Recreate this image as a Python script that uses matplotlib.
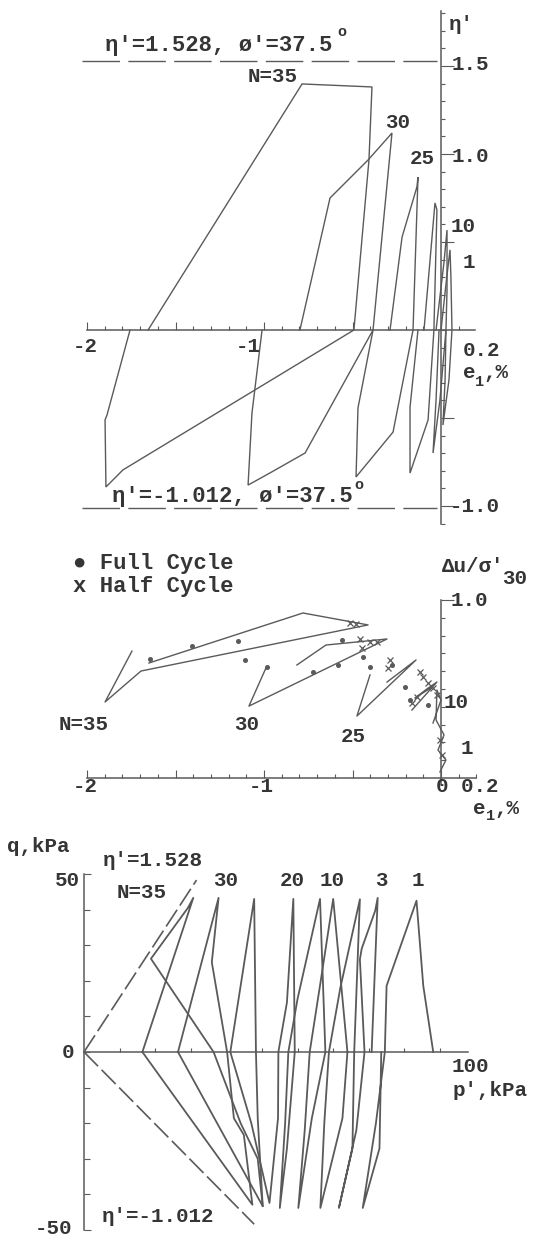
import matplotlib
matplotlib.use('Agg')
import matplotlib.pyplot as plt
import numpy as np

# ---------------- data ----------------
# Top panel: stress ratio eta' vs axial strain e1 (%)
top_n35_e = [-1.655, -0.785, -0.390, -0.407, -0.492, -1.797, -1.893, -1.898, -1.887, -1.757]
top_n35_eta = [0.0, 1.398, 1.381, 0.966, 0.0, -0.795, -0.892, -0.511, -0.483, 0.0]
top_n30_e = [-0.797, -0.627, -0.412, -0.277, -0.384, -0.768, -0.966, -1.090, -1.068, -1.011]
top_n30_eta = [0.0, 0.750, 0.966, 1.119, 0.0, -0.699, -0.812, -0.881, -0.472, 0.0]
top_n25_e = [-0.288, -0.220, -0.136, -0.130, -0.158, -0.271, -0.480, -0.469, -0.384]
top_n25_eta = [0.0, 0.528, 0.813, 0.869, 0.0, -0.580, -0.835, -0.443, 0.0]
top_n20_e = [-0.096, -0.034, -0.023, -0.040, -0.073, -0.175, -0.175, -0.130]
top_n20_eta = [0.0, 0.722, 0.682, 0.0, -0.511, -0.813, -0.438, 0.0]
top_n10_e = [-0.028, 0.017, 0.034, 0.034, 0.028, -0.006, -0.045, -0.028, -0.011]
top_n10_eta = [0.0, 0.386, 0.568, 0.227, 0.0, -0.398, -0.699, -0.398, 0.0]
top_n1_e = [0.0, 0.034, 0.051, 0.056, 0.062, 0.045, 0.011, 0.023, 0.028]
top_n1_eta = [0.0, 0.313, 0.455, 0.301, 0.0, -0.284, -0.540, -0.284, 0.0]
eta_comp = 1.528
eta_ext = -1.012

# Middle panel: pore pressure ratio du/sigma'30 vs axial strain
mid_n35_e = [-1.746, -1.898, -1.695, -0.412, -0.780, -1.650]
mid_n35_u = [0.713, 0.427, 0.601, 0.860, 0.927, 0.646]
mid_n30_e = [-0.989, -1.085, -0.305, -0.650, -0.814]
mid_n30_u = [0.618, 0.404, 0.781, 0.747, 0.635]
mid_n25_e = [-0.401, -0.475, -0.141, -0.305]
mid_n25_u = [0.579, 0.348, 0.663, 0.539]
mid_n10_e = [-0.164, -0.023, -0.080, -0.147, -0.051]
mid_n10_u = [0.382, 0.539, 0.500, 0.449, 0.511]
mid_n1_e = [-0.045, 0.0, -0.023, -0.028, 0.017, -0.017, 0.028, -0.006]
mid_n1_u = [0.309, 0.438, 0.494, 0.326, 0.242, 0.157, 0.101, 0.034]
full_e = [-1.644, -1.407, -1.147, -1.107, -0.983, -0.723, -0.582, -0.559, -0.441, -0.401,
          -0.277, -0.203, -0.175, -0.073]
full_u = [0.669, 0.742, 0.770, 0.663, 0.624, 0.596, 0.635, 0.775, 0.680, 0.624,
          0.635, 0.511, 0.438, 0.410]
half_e = [-0.514, -0.480, -0.458, -0.401, -0.362, -0.446, -0.288, -0.299, -0.119, -0.102,
          -0.073, -0.045, -0.136, -0.164, -0.023, -0.006, 0.006]
half_u = [0.871, 0.865, 0.781, 0.764, 0.764, 0.730, 0.663, 0.618, 0.596, 0.567,
          0.534, 0.506, 0.455, 0.421, 0.466, 0.213, 0.129]

# Bottom panel: q (kPa) vs p' (kPa)
bot_c1_p = [98.1, 95.3, 93.4, 85.0, 84.5, 82.0, 78.3, 83.0, 83.5]
bot_c1_q = [0, 18.6, 42.5, 18.6, 0, -20.0, -43.8, -27.1, 0]
bot_c3_p = [80.8, 82.5, 81.8, 78.0, 77.5, 78.8, 76.5, 71.6, 75.4, 75.9]
bot_c3_q = [0, 43.3, 39.7, 29.0, 26.0, 0, -22.0, -43.8, -27.1, 0]
bot_c5_p = [75.9, 77.5, 72.0, 68.8, 67.5, 66.4, 72.6, 74.0]
bot_c5_q = [0, 42.9, 18.0, 0, -20.0, -43.8, -18.6, 0]
bot_c10_p = [74.0, 70.0, 66.5, 63.4, 62.0, 60.2, 64.0, 67.8]
bot_c10_q = [0, 43.0, 20.0, 0, -22.0, -43.8, -18.6, 0]
bot_c15_p = [67.8, 66.3, 60.0, 57.4, 56.5, 55.0, 57.0, 59.2]
bot_c15_q = [0, 43.0, 15.0, 0, -20.0, -43.8, -27.1, 0]
bot_c20_p = [59.2, 58.8, 57.0, 54.6, 54.5, 52.1, 47.0, 41.1]
bot_c20_q = [0, 43.0, 13.9, 0, -18.6, -42.4, -20.0, 0]
bot_c25_p = [41.1, 47.8, 48.3, 48.8, 50.2, 26.4]
bot_c25_q = [0, 43.0, 0, -18.6, -43.3, 0]
bot_c30_p = [26.4, 37.8, 35.9, 40.2, 42.1, 44.9, 47.3, 16.4]
bot_c30_q = [0, 43.3, 25.2, 0, -18.6, -23.3, -42.9, 0]
bot_c35_p = [16.4, 30.7, 29.2, 18.8, 36.4, 44.0, 48.8, 50.2]
bot_c35_q = [0, 43.3, 40.5, 26.2, 0, -20.0, -30.0, -43.3]
line_comp_p = [0, 31.6]
line_ext_p = [0, 47.8]

# ---------------- figure ----------------
W, H = 533, 1238
DPI = 100
fig = plt.figure(figsize=(W / DPI, H / DPI), dpi=DPI)
fig.patch.set_facecolor('white')

FONT = ['Liberation Mono', 'DejaVu Sans Mono', 'DejaVu Sans']
TXT = '#353535'
LC = '#5a5a5a'
LW = 1.0


def make_ax(x0, xs, y0, ys, top, bot):
    ax = fig.add_axes([0, 1 - bot / H, 1, (bot - top) / H])
    ax.set_xlim((0 - x0) / xs, (W - x0) / xs)
    ax.set_ylim((y0 - bot) / ys, (y0 - top) / ys)
    ax.patch.set_alpha(0)
    for s in ['top', 'right']:
        ax.spines[s].set_visible(False)
    for s in ['left', 'bottom']:
        ax.spines[s].set_position(('data', 0))
        ax.spines[s].set_color(LC)
        ax.spines[s].set_linewidth(1.1)
    ax.xaxis.set_ticks_position('bottom')
    ax.yaxis.set_ticks_position('left')
    ax.tick_params(which='both', direction='in', labelbottom=False, labelleft=False,
                   color=LC, width=0.8)
    ax.tick_params(which='major', length=6)
    ax.tick_params(which='minor', length=3)
    return ax


def ftext(px, py, s, size=15, ha='left', va='center'):
    fig.text(px / W, 1 - py / H, s, fontsize=size, ha=ha, va=va, family=FONT,
             color=TXT, fontweight='bold')


# ---- top panel ----
ax1 = make_ax(441, 177, 330, 176, 0, 530)
ax1.spines['left'].set_bounds(-1.1, 1.81)
ax1.spines['bottom'].set_bounds(-2.0, 0.19)
ax1.set_xticks([-2, -1.5, -1, -0.5, 0])
ax1.set_xticks(np.arange(-2.0, 0.2, 0.1), minor=True)
ax1.set_yticks([-1.0, -0.5, 0.5, 1.0, 1.5])
ax1.set_yticks(np.arange(-1.1, 1.85, 0.1), minor=True)
ax1.tick_params(axis='y', which='major', length=9)
for e, t in [(top_n35_e, top_n35_eta), (top_n30_e, top_n30_eta), (top_n25_e, top_n25_eta),
             (top_n20_e, top_n20_eta), (top_n10_e, top_n10_eta), (top_n1_e, top_n1_eta)]:
    ax1.plot(e, t, color=LC, lw=LW, solid_joinstyle='miter')
ax1.plot([-2.03, -0.02], [eta_comp, eta_comp], color=LC, lw=1.0, ls=(0, (27, 6)))
ax1.plot([-2.03, -0.02], [eta_ext, eta_ext], color=LC, lw=1.0, ls=(0, (27, 6)))

ftext(105, 45, "η'=1.528, ø'=37.5", size=16)
ftext(337, 32, "o", size=11)
ftext(112, 496, "η'=-1.012, ø'=37.5", size=16)
ftext(354, 485, "o", size=11)
ftext(248, 77, "N=35")
ftext(385, 123, "30")
ftext(410, 158, "25")
ftext(451, 227, "10")
ftext(463, 263, "1")
ftext(449, 24, "η'")
ftext(452, 65, "1.5")
ftext(452, 156, "1.0")
ftext(450, 507, "-1.0")
ftext(73, 347, "-2")
ftext(236, 347, "-1")
ftext(463, 350, "0.2")
ftext(463, 373, "e")
ftext(475, 382, "1", size=11)
ftext(483, 373, ",%")

# ---- middle panel ----
ax2 = make_ax(441, 177, 778, 178, 530, 820)
ax2.spines['left'].set_bounds(-0.04, 1.0)
ax2.spines['bottom'].set_bounds(-2.0, 0.2)
ax2.set_xticks([-2, -1.5, -1, -0.5, 0])
ax2.set_xticks(np.arange(-2.0, 0.25, 0.1), minor=True)
ax2.set_yticks([1.0])
ax2.set_yticks(np.arange(0.1, 1.0, 0.1), minor=True)
ax2.tick_params(axis='y', which='major', length=9)
for e, u in [(mid_n35_e, mid_n35_u), (mid_n30_e, mid_n30_u), (mid_n25_e, mid_n25_u),
             (mid_n10_e, mid_n10_u), (mid_n1_e, mid_n1_u)]:
    ax2.plot(e, u, color=LC, lw=LW)
ax2.plot(full_e, full_u, ls='none', marker='o', ms=2.6, color=LC, mec=LC)
ax2.plot(half_e, half_u, ls='none', marker='x', ms=4, mew=0.9, color=LC)

ftext(73, 563, "● Full Cycle", size=16)
ftext(73, 586, "x Half Cycle", size=16)
ftext(442, 566, "Δu/σ'", size=15)
ftext(502, 578, "30", size=15)
ftext(451, 600, "1.0")
ftext(444, 702, "10")
ftext(461, 749, "1")
ftext(59, 724, "N=35")
ftext(234, 724, "30")
ftext(341, 736, "25")
ftext(73, 787, "-2")
ftext(249, 787, "-1")
ftext(436, 786, "0 0.2")
ftext(473, 808, "e")
ftext(486, 816, "1", size=11)
ftext(494, 808, ",%")

# ---- bottom panel ----
ax3 = make_ax(84, 3.56, 1052, 3.56, 820, 1238)
ax3.spines['left'].set_bounds(-50, 50)
ax3.spines['bottom'].set_bounds(0, 108)
ax3.set_xticks(np.arange(10, 101, 10))
ax3.set_yticks([-50, 50])
ax3.set_yticks(np.arange(-40, 41, 10), minor=True)
ax3.tick_params(axis='x', which='major', length=3)
ax3.tick_params(axis='y', which='major', length=5)
ax3.tick_params(axis='y', which='minor', length=4)
for p, q in [(bot_c1_p, bot_c1_q), (bot_c3_p, bot_c3_q), (bot_c5_p, bot_c5_q),
             (bot_c10_p, bot_c10_q), (bot_c15_p, bot_c15_q), (bot_c20_p, bot_c20_q),
             (bot_c25_p, bot_c25_q), (bot_c30_p, bot_c30_q), (bot_c35_p, bot_c35_q)]:
    ax3.plot(p, q, color=LC, lw=1.3)
lp = np.array(line_comp_p)
ax3.plot(lp, eta_comp * lp, color=LC, lw=1.2, ls=(0, (12, 3)))
le = np.array(line_ext_p)
ax3.plot(le, eta_ext * le, color=LC, lw=1.2, ls=(0, (12, 3)))

ftext(7, 846, "q,kPa")
ftext(103, 861, "η'=1.528")
ftext(117, 892, "N=35")
ftext(213, 881, "30")
ftext(280, 881, "20")
ftext(320, 881, "10")
ftext(375, 881, "3")
ftext(412, 881, "1")
ftext(80, 880, "50", ha='right')
ftext(74, 1053, "0", ha='right')
ftext(72, 1228, "-50", ha='right')
ftext(452, 1066, "100")
ftext(452, 1090, "p',kPa")
ftext(102, 1217, "η'=-1.012")

fig.savefig('out.png', dpi=DPI, facecolor='white')
